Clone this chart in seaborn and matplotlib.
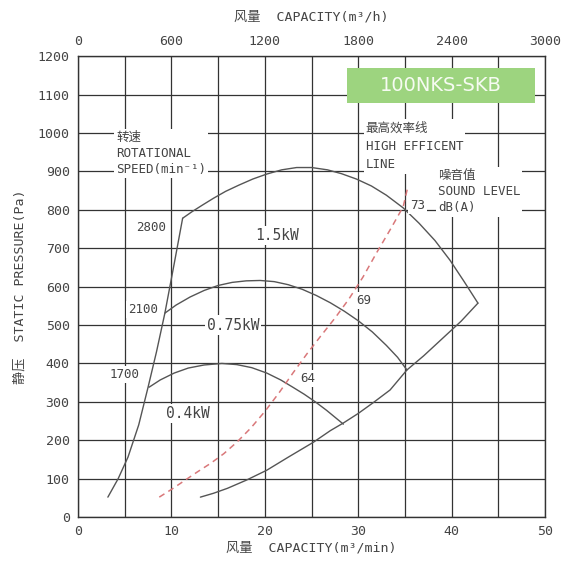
import matplotlib
matplotlib.use("Agg")
import matplotlib.pyplot as plt
from matplotlib.patches import Rectangle
import seaborn as sns

sns.set_style("white")
plt.rcParams['font.family'] = ['DejaVu Sans Mono', 'Noto Sans CJK SC']

# data (x: m3/min, y: Pa)
speed_x = [3.2, 4.3, 5.35, 6.5, 7.5, 8.4, 9.3, 10.3, 11.2]
speed_y = [52, 100, 156, 240, 338, 430, 531, 660, 778]

kw15_x = [11.2, 12.2, 13.3, 14.5, 15.8, 17.2, 18.7, 20.2, 21.8, 23.4, 25.0, 26.7, 28.2,
          29.8, 31.4, 33.0, 34.8, 36.5, 38.2, 39.8, 41.3, 42.8]
kw15_y = [778, 795, 812, 830, 848, 864, 880, 893, 904, 910, 910, 904, 894,
          880, 862, 838, 805, 765, 720, 669, 614, 557]

kw075_x = [9.3, 10.5, 12.0, 13.5, 15.0, 16.5, 18.0, 19.5, 21.0, 22.5, 24.0, 25.5,
           27.0, 28.5, 30.0, 31.5, 33.0, 34.2, 35.2]
kw075_y = [531, 552, 573, 590, 603, 611, 615, 616, 613, 605, 593, 577,
           558, 536, 511, 482, 447, 416, 383]

kw04_x = [7.6, 8.8, 10.3, 11.8, 13.5, 15.4, 17.0, 18.6, 20.2, 21.7, 23.0, 24.2, 25.4,
          26.6, 27.5, 28.4]
kw04_y = [338, 357, 375, 388, 396, 400, 397, 389, 375, 357, 338, 320, 300,
          278, 260, 242]

limit_x = [13.1, 14.5, 16.0, 18.0, 20.2, 22.5, 25.2, 27.0, 28.4, 30.0, 31.6, 33.4, 35.2,
           37.0, 39.0, 41.0, 42.8]
limit_y = [52, 62, 75, 96, 122, 156, 195, 225, 245, 270, 298, 331, 383,
           420, 465, 510, 557]

eff_x = [8.7, 10.0, 11.4, 12.8, 14.2, 15.6, 17.0, 18.5, 20.0, 21.5, 23.0, 24.5,
         26.0, 27.5, 29.0, 30.5, 32.0, 33.5, 34.8, 35.3]
eff_y = [52, 72, 95, 118, 140, 165, 195, 232, 275, 323, 375, 425,
         472, 518, 568, 625, 690, 752, 808, 860]

x_ticks = [0, 10, 20, 30, 40, 50]
top_labels = ['0', '600', '1200', '1800', '2400', '3000']
y_ticks = list(range(0, 1300, 100))

ink = '#555555'
txt = '#444444'

fig = plt.figure(figsize=(5.65, 5.67), dpi=100)
ax = fig.add_axes([0.138, 0.088, 0.827, 0.813])

solid = [(speed_x, speed_y), (kw15_x, kw15_y), (kw075_x, kw075_y),
         (kw04_x, kw04_y), (limit_x, limit_y)]
for xs, ys in solid:
    sns.lineplot(x=xs, y=ys, ax=ax, sort=False, estimator=None,
                 color=ink, linewidth=1.0, zorder=4)
sns.lineplot(x=eff_x, y=eff_y, ax=ax, sort=False, estimator=None,
             color='#d9787a', linewidth=1.1, linestyle=(0, (4, 3)), zorder=4)

ax.set_xlim(0, 50)
ax.set_ylim(0, 1200)
ax.set_xticks(range(0, 51, 5), minor=True)
ax.set_xticks(x_ticks)
ax.set_yticks(y_ticks)
ax.grid(True, which='both', color='#333333', linewidth=0.9)
ax.set_axisbelow(True)
ax.tick_params(length=0, labelsize=9.5, colors=txt, pad=6)
for s in ax.spines.values():
    s.set_color('#333333')
    s.set_linewidth(1.0)

ax.set_xlabel('风量  CAPACITY(m³/min)', fontsize=9.5, color=txt, labelpad=2)
ax.set_ylabel('静压  STATIC PRESSURE(Pa)', fontsize=9.5, color=txt, labelpad=8)

top = ax.secondary_xaxis('top')
top.set_xticks(x_ticks)
top.set_xticklabels(top_labels)
top.tick_params(length=0, labelsize=9.5, colors=txt, pad=6)
top.spines['top'].set_visible(False)
top.set_xlabel('风量  CAPACITY(m³/h)', fontsize=9.5, color=txt, labelpad=10)

wb = dict(facecolor='white', edgecolor='none', pad=1.5)
def label(x, y, s, size=9, ha='center', va='center', ls=1.2):
    ax.text(x, y, s, fontsize=size, color=txt, ha=ha, va=va, zorder=6,
            linespacing=ls, bbox=wb)

label(4.1, 1005, '转速\nROTATIONAL\nSPEED(min⁻¹)', ha='left', va='top', ls=1.3)
label(30.8, 1030, '最高效率线\nHIGH EFFICENT\nLINE', ha='left', va='top', ls=1.55)
label(38.5, 905, '噪音值\nSOUND LEVEL\ndB(A)', ha='left', va='top', ls=1.3)
label(7.8, 755, '2800')
label(7.0, 540, '2100')
label(5.0, 372, '1700')
label(21.3, 734, '1.5kW', size=10.5)
label(16.6, 500, '0.75kW', size=10.5)
label(11.8, 270, '0.4kW', size=10.5)
label(24.6, 360, '64')
label(30.6, 563, '69')
label(36.3, 812, '73')

ax.add_patch(Rectangle((28.8, 1078), 20.1, 91, facecolor='#9dd47f',
                       edgecolor='none', zorder=7))
ax.text(38.85, 1123, '100NKS-SKB', fontsize=14, color='#f6fbf2', ha='center',
        va='center', zorder=8, family='DejaVu Sans')

fig.savefig('out.png', dpi=100)
